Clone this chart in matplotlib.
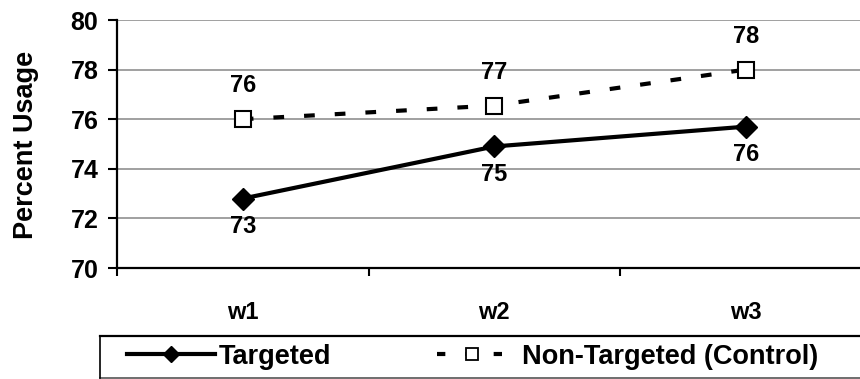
import matplotlib
matplotlib.use("Agg")
import matplotlib.pyplot as plt
from matplotlib.lines import Line2D
from matplotlib.ticker import FixedLocator, NullFormatter

plt.rcParams["font.family"] = ["Liberation Sans", "DejaVu Sans"]
plt.rcParams["font.weight"] = "bold"

weeks = ["w1", "w2", "w3"]
targeted = [72.8, 74.9, 75.7]
control = [76.0, 76.55, 78.0]
series_names = ["Targeted", "Non-Targeted (Control)"]
y_ticks = [70, 72, 74, 76, 78, 80]

FS_YTICK = 18
FS_XTICK = 17
FS_LABEL = 17
FS_YLABEL = 19.5
FS_LEGEND = 19.5
LW = 3.0

W, H = 860, 379
fig = plt.figure(figsize=(W / 100, H / 100), dpi=100)
ax = fig.add_axes([117 / W, 1 - 268 / H, (871.5 - 117) / W, (268 - 20) / H])

x = list(range(len(weeks)))
ax.plot(x, targeted, color="black", lw=LW, marker="D", ms=11,
        mfc="black", mec="black", zorder=4)
ax.plot(x, control, color="black", lw=LW, ls=(0, (2.57, 4.8)), marker="s", ms=11,
        mfc="white", mec="black", mew=1.5, zorder=4)

for xi, v in zip(x, targeted):
    ax.annotate(f"{v:.0f}", (xi, v), xytext=(0, -20), textcoords="offset points",
                ha="center", va="center", fontsize=FS_LABEL, fontweight="bold")
for xi, v in zip(x, control):
    ax.annotate(f"{v:.0f}", (xi, v), xytext=(0, 24), textcoords="offset points",
                ha="center", va="center", fontsize=FS_LABEL, fontweight="bold")

ax.set_xlim(-0.5, len(weeks) - 0.5)
ax.set_ylim(y_ticks[0], y_ticks[-1])
ax.set_yticks(y_ticks)
ax.set_yticklabels([str(t) for t in y_ticks], fontsize=FS_YTICK, fontweight="bold")
ax.set_xticks(x)
ax.set_xticklabels(weeks, fontsize=FS_XTICK, fontweight="bold")
ax.xaxis.set_minor_locator(FixedLocator([i - 0.5 for i in range(len(weeks) + 1)]))
ax.xaxis.set_minor_formatter(NullFormatter())
ax.tick_params(axis="x", which="major", length=0, pad=24)
ax.tick_params(axis="x", which="minor", length=5.5, width=1.5, color="black")
ax.tick_params(axis="y", length=6.5, width=1.5, pad=7, color="black")

ax.grid(axis="y", color="#999999", lw=1.3, zorder=0)
ax.set_axisbelow(True)
for side in ("top", "right"):
    ax.spines[side].set_visible(False)
for side in ("left", "bottom"):
    ax.spines[side].set_linewidth(1.6)
    ax.spines[side].set_color("black")
    ax.spines[side].set_zorder(5)

fig.text(26 / W, 1 - 145 / H, "Percent Usage", rotation=90, ha="center", va="center",
         fontsize=FS_YLABEL, fontweight="bold")

# legend strip along the bottom: dark rule on top, grey rule below
fig.add_artist(Line2D([100 / W, 1.0], [1 - 336 / H, 1 - 336 / H],
                      transform=fig.transFigure, color="black", lw=1.6))
fig.add_artist(Line2D([100 / W, 1.0], [1 - 377.5 / H, 1 - 377.5 / H],
                      transform=fig.transFigure, color="#555555", lw=1.2))
fig.add_artist(Line2D([100 / W, 100 / W], [1 - 336 / H, 1 - 377.5 / H],
                      transform=fig.transFigure, color="black", lw=1.2))

h_target = Line2D([], [], color="black", lw=LW, marker="D", ms=8, mfc="black", mec="black")
h_control = Line2D([], [], color="black", lw=LW, ls=(0, (2.0, 4.8)), marker="s", ms=8,
                   mfc="white", mec="black", mew=1.3)
leg1 = fig.legend([h_target], [series_names[0]], loc="center left",
                  bbox_to_anchor=(127 / W, 1 - 356.5 / H), frameon=False, borderpad=0,
                  borderaxespad=0, handlelength=3.25, handletextpad=0.12,
                  prop={"size": FS_LEGEND, "weight": "bold"})
leg2 = fig.legend([h_control], [series_names[1]], loc="center left",
                  bbox_to_anchor=(437 / W, 1 - 356.5 / H), frameon=False, borderpad=0,
                  borderaxespad=0, handlelength=2.55, handletextpad=0.6,
                  prop={"size": FS_LEGEND, "weight": "bold"})

fig.savefig("out.png", dpi=100)
